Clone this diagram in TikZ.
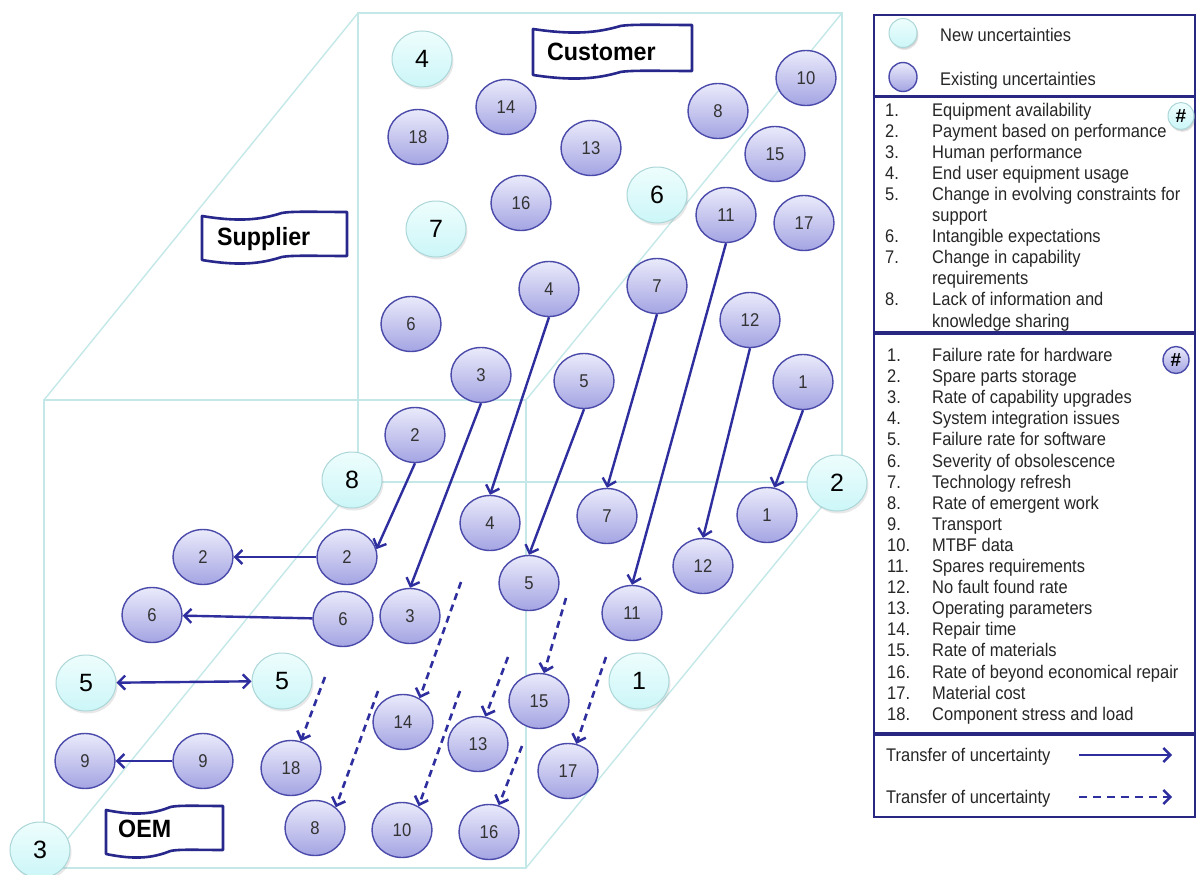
\documentclass[tikz,border=0pt]{standalone}
\usepackage{fontspec}
\setmainfont{Liberation Sans}
\newfontfamily\condfont[FakeStretch=0.9]{Liberation Sans}
\newfontfamily\bannerfont[FakeStretch=0.93]{Liberation Sans}
\usetikzlibrary{shapes.geometric,arrows.meta,shadows}

\definecolor{cubeline}{RGB}{196,232,232}
\definecolor{exTop}{RGB}{234,234,251}
\definecolor{exBot}{RGB}{164,164,227}
\definecolor{exBorder}{RGB}{74,74,170}
\definecolor{newTop}{RGB}{238,253,253}
\definecolor{newBot}{RGB}{204,246,248}
\definecolor{newBorder}{RGB}{172,214,216}
\definecolor{arrowBlue}{RGB}{46,46,158}
\definecolor{bannerBlue}{RGB}{40,40,140}
\definecolor{legBlue}{RGB}{40,40,130}

% wavy banner: left x, top y, width, height
\newcommand{\wavebanner}[4]{%
  \draw[bannerline, shift={(#1,#2)}, xscale=#3/100]
    (0,4) .. controls (25,10) and (40,8) .. (55,1)
          .. controls (62,-1) and (80,0) .. (100,0)
    -- (100,#4)
          .. controls (80,#4) and (62,{#4-1}) .. (55,{#4+1})
          .. controls (40,{#4+8}) and (25,{#4+10}) .. (0,{#4+4})
    -- cycle;}

\begin{document}
\begin{tikzpicture}[x=1pt,y=-1pt,
  exist/.style={ellipse, draw=exBorder, line width=1.4pt,
    top color=exTop, bottom color=exBot,
    minimum width=60pt, minimum height=55pt, inner sep=0pt,
    font=\condfont\fontsize{18.5}{18.5}\selectfont, text=black!80},
  newu/.style={ellipse, draw=newBorder, line width=1pt,
    top color=newTop, bottom color=newBot,
    minimum width=60pt, minimum height=56pt, inner sep=0pt,
    drop shadow={opacity=0.18, shadow xshift=1.5pt, shadow yshift=-2.5pt},
    font=\fontsize{25}{25}\selectfont, text=black},
  arr/.style={draw=arrowBlue, line width=2.4pt,
    -{Straight Barb[length=7pt,width=14pt]}},
  dasharr/.style={arr, line width=2.6pt, dash pattern=on 7pt off 5pt},
  cube/.style={draw=cubeline, line width=1.4pt},
  bannerline/.style={draw=bannerBlue, line width=2.6pt, fill=white, line join=round},
  bannertext/.style={font=\bannerfont\bfseries\fontsize{25}{25}\selectfont,
    anchor=base west, inner sep=0pt},
  legbox/.style={draw=legBlue, line width=2.6pt},
  legtext/.style={font=\condfont\fontsize{18.3}{20}\selectfont,
    anchor=base west, inner sep=0pt, text=black!85}]

\useasboundingbox (0,0) rectangle (1197,875);
\fill[white] (0,0) rectangle (1197,875);

% ---- the cube ----
\coordinate (f1) at (44,400);  \coordinate (f2) at (526,400);
\coordinate (f3) at (526,868); \coordinate (f4) at (44,868);
\coordinate (b1) at (358,13);  \coordinate (b2) at (842,13);
\coordinate (b3) at (842,482); \coordinate (b4) at (358,482);
\draw[cube] (f1) -- (f2) -- (f3) -- (f4) -- cycle;
\draw[cube] (b1) -- (b2) -- (b3) -- (b4) -- cycle;
\draw[cube] (f1) -- (b1) (f2) -- (b2) (f3) -- (b3) (f4) -- (b4);

% ---- banners ----
\wavebanner{533}{25}{159}{46}
\node[bannertext] (customer) at (547,60) {Customer};
\wavebanner{202}{212}{145}{44}
\node[bannertext] (supplier) at (217,245.5) {Supplier};
\wavebanner{106}{806}{117}{44}
\node[bannertext] (oem) at (118,837) {OEM};

% ---- customer layer ----
\node[newu]  (c4n) at (422,59)  {4};
\node[exist] (c14) at (506,107) {14};
\node[exist] (c18) at (418,137) {18};
\node[exist] (c13) at (591,148) {13};
\node[exist] (c16) at (521,203) {16};
\node[newu]  (c7n) at (436,229) {7};
\node[newu]  (c6n) at (657,195) {6};
\node[exist] (c8)  at (718,111) {8};
\node[exist] (c10) at (806,78)  {10};
\node[exist] (c15) at (775,154) {15};
\node[exist] (u11) at (726,215) {11};
\node[exist] (c17) at (804,223) {17};
\node[exist] (u4)  at (549,289) {4};
\node[exist] (u7)  at (657,286) {7};
\node[exist] (u12) at (750,320) {12};
\node[exist] (c6)  at (411,324) {6};
\node[exist] (u3)  at (481,375) {3};
\node[exist] (u5)  at (584,381) {5};
\node[exist] (u1)  at (803,382) {1};
\node[exist] (u2)  at (415,435) {2};
\node[newu]  (n8)  at (352,480) {8};
\node[newu]  (n2)  at (837,483) {2};

% ---- lower layers ----
\node[exist] (l4)  at (490,523) {4};
\node[exist] (l7)  at (607,516) {7};
\node[exist] (l1)  at (767,515) {1};
\node[exist] (l12) at (703,566) {12};
\node[exist] (m2)  at (347,557) {2};
\node[exist] (w2)  at (203,557) {2};
\node[exist] (l5)  at (529,583) {5};
\node[exist] (l11) at (632,613) {11};
\node[exist] (m6)  at (343,619) {6};
\node[exist] (w6)  at (152,615) {6};
\node[exist] (l3)  at (410,616) {3};
\node[newu]  (n5w) at (86,683)  {5};
\node[newu]  (n5e) at (282,681) {5};
\node[newu]  (n1)  at (639,681) {1};
\node[exist] (l15) at (539,701) {15};
\node[exist] (l14) at (403,722) {14};
\node[exist] (l13) at (478,744) {13};
\node[exist] (w9)  at (85,761)  {9};
\node[exist] (m9)  at (203,761) {9};
\node[exist] (l18) at (291,768) {18};
\node[exist] (l17) at (568,771) {17};
\node[exist] (l8)  at (315,828) {8};
\node[exist] (l10) at (402,830) {10};
\node[exist] (l16) at (489,832) {16};
\node[newu]  (n3)  at (40,850)  {3};

% ---- solid transfers ----
\draw[arr] (u2.south) -- (m2.15);
\draw[arr] (u3.south) -- (l3.north);
\draw[arr] (u4.south) -- (l4.north);
\draw[arr] (u5.south) -- (l5.north);
\draw[arr] (u7.south) -- (l7.north);
\draw[arr] (u11.south) -- (l11.north);
\draw[arr] (u12.south) -- (l12.north);
\draw[arr] (u1.south) -- (l1.75);
\draw[arr] (m2) -- (w2);
\draw[arr] (m6) -- (w6);
\draw[arr, {Straight Barb[length=7pt,width=14pt]}-{Straight Barb[length=7pt,width=14pt]}] (n5w) -- (n5e);
\draw[arr] (m9) -- (w9);

% ---- dashed transfers ----
\coordinate (d18) at (325,677);
\coordinate (d14) at (461,582);
\coordinate (d8)  at (378,691);
\coordinate (d10) at (460,691);
\coordinate (d13) at (508,657);
\coordinate (d15) at (566,598);
\coordinate (d17) at (606,657);
\coordinate (d16) at (522,746);
\draw[dasharr] (d18) -- (l18.70);
\draw[dasharr] (d14) -- (l14.55);
\draw[dasharr] (d8)  -- (l8.45);
\draw[dasharr] (d10) -- (l10.55);
\draw[dasharr] (d13) -- (l13.75);
\draw[dasharr] (d15) -- (l15.80);
\draw[dasharr] (d17) -- (l17.73);
\draw[dasharr] (d16) -- (l16.70);

% ---- legend ----
\draw[legbox] (874,15) rectangle (1195,96);
\draw[legbox] (874,97) rectangle (1195,332);
\draw[legbox] (874,334) rectangle (1195,733);
\draw[legbox] (874,735) rectangle (1195,817);

\node[newu, minimum width=28pt, minimum height=29pt,
      drop shadow={opacity=0.18, shadow xshift=1pt, shadow yshift=-1.5pt}] (lnew) at (903,33) {};
\node[legtext] (lnewt) at (940,42) {New uncertainties};
\node[exist, minimum width=28pt, minimum height=29pt] (lex) at (903,77) {};
\node[legtext] (lext) at (940,85) {Existing uncertainties};

\foreach \k/\n/\t in {0/1./Equipment availability,
                      1/2./Payment based on performance,
                      2/3./Human performance,
                      3/4./End user equipment usage,
                      4/5./Change in evolving constraints for,
                      5/{}/support,
                      6/6./Intangible expectations,
                      7/7./Change in capability,
                      8/{}/requirements,
                      9/8./Lack of information and,
                      10/{}/knowledge sharing}{
  \node[legtext] (cn\k) at (885,{116+21.1*\k}) {\n};
  \node[legtext] (ct\k) at (932,{116+21.1*\k}) {\t};
}
\node[newu, minimum width=26pt, minimum height=27pt,
      drop shadow={opacity=0.2, shadow xshift=1pt, shadow yshift=-1.5pt},
      font=\bfseries\fontsize{19}{19}\selectfont] (hashc) at (1181,116) {\#};

\foreach \k/\n/\t in {0/1./Failure rate for hardware,
                      1/2./Spare parts storage,
                      2/3./Rate of capability upgrades,
                      3/4./System integration issues,
                      4/5./Failure rate for software,
                      5/6./Severity of obsolescence,
                      6/7./Technology refresh,
                      7/8./Rate of emergent work,
                      8/9./Transport,
                      9/10./MTBF data,
                      10/11./Spares requirements,
                      11/12./No fault found rate,
                      12/13./Operating parameters,
                      13/14./Repair time,
                      14/15./Rate of materials,
                      15/16./Rate of beyond economical repair,
                      16/17./Material cost,
                      17/18./Component stress and load}{
  \node[legtext] (on\k) at (887,{361.5+21.1*\k}) {\n};
  \node[legtext] (ot\k) at (932,{361.5+21.1*\k}) {\t};
}
\node[exist, minimum width=26pt, minimum height=27pt,
      font=\bfseries\fontsize{19}{19}\selectfont, text=black] (hasho) at (1176,360) {\#};

\node[legtext] (tr1) at (886,761) {Transfer of uncertainty};
\coordinate (ts1) at (1079,755);
\coordinate (te1) at (1172,755);
\draw[arr] (ts1) -- (te1);
\node[legtext] (tr2) at (886,803) {Transfer of uncertainty};
\coordinate (ts2) at (1079,797);
\coordinate (te2) at (1172,797);
\draw[arr, dash pattern=on 8pt off 6pt] (ts2) -- (te2);
\end{tikzpicture}
\end{document}
